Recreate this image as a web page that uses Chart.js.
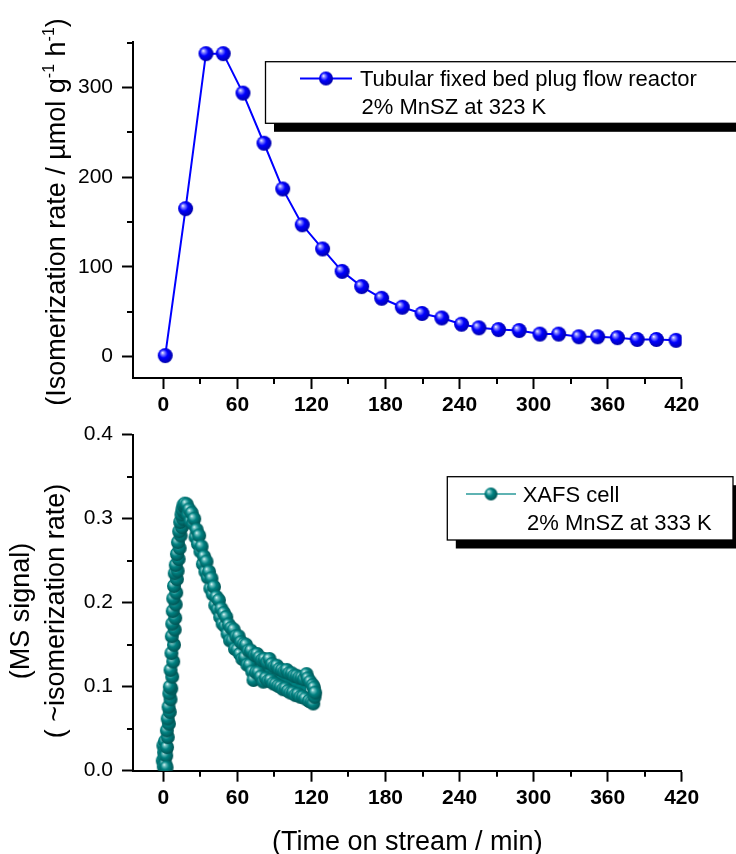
<!DOCTYPE html>
<html><head><meta charset="utf-8">
<script src="https://cdn.jsdelivr.net/npm/chart.js@4.4.1/dist/chart.umd.min.js"></script>
<style>
html,body{margin:0;padding:0;background:#fff;overflow:hidden;width:736px;height:854px;}
canvas{position:absolute;left:0;top:0;}
</style></head><body>
<canvas id="topChart" width="736" height="854"></canvas>
<canvas id="bottomChart" width="736" height="854"></canvas>
<script>
const FONT = '"Liberation Sans", Arial, Helvetica, sans-serif';

// ---- tick labels ----
const timeTicks = [0, 60, 120, 180, 240, 300, 360, 420];
const timeMinorTicks = [30, 90, 150, 210, 270, 330, 390];
const rateTicks = [0, 100, 200, 300];
const rateMinorTicks = [50, 150, 250, 350];
const signalTicks = [0, 0.1, 0.2, 0.3, 0.4];
const signalMinorTicks = [0.05, 0.15, 0.25, 0.35];

// ---- series: tubular fixed bed plug flow reactor (2% MnSZ, 323 K) ----
const tubeTime = [1.5, 18, 34.5, 48.5, 64.5, 81.5, 96.7, 112.5, 129, 144.8, 160.7, 176.9, 193.6, 209.6, 225.6, 241.6, 255.7, 271.6, 288.3, 305.1, 320.3, 336.7, 351.9, 367.9, 383.9, 399.5, 415.4];
const tubeRate = [1, 165, 338, 338, 294, 238, 187, 147, 120, 95, 78, 65, 55, 48, 43, 36, 32, 30, 29, 25, 25, 22, 22, 21, 19, 19, 18];

// ---- series: XAFS cell (2% MnSZ, 333 K) ----
const xafsTime = [
  -0.5, 0, 0.3, 0.6, 1, 1.3, 1.6, 2, 2.3, 2.6,
  3, 3.6, 2.8, 4.5, 3.5, 5.2, 4.2, 5.8, 4.8, 6.4,
  5.2, 7.2, 5.8, 8.0, 6.5, 8.6, 6.8, 9.2, 7.2, 9.6,
  7.6, 10.0, 8.0, 10.4, 8.6, 11.0, 9.2, 11.6, 10.0, 12.4,
  11.0, 13.2, 11.8, 14.0, 12.8, 15.0, 13.6, 15.8, 14.6, 16.4,
  15.4, 17.2, 16.2, 18.2, 17.4,
  19, 20, 21, 22, 23, 24, 25, 26, 27, 28,
  29, 30, 31, 32, 33, 34, 35, 36, 37, 38,
  39, 40, 41, 42, 43, 44, 45, 46, 47, 48,
  49, 50, 51, 52, 53, 54, 55, 56, 57, 58,
  59, 60, 61, 62, 63, 64, 65, 66, 67, 68,
  69, 70, 71, 72, 73, 74, 75, 76, 77, 78,
  79, 80, 81, 82, 83, 84, 85, 86, 87, 88,
  89, 90, 91, 92, 93, 94, 95, 96, 97, 98,
  99, 100, 101, 102, 103, 104, 105, 106, 107, 108,
  109, 110, 111, 112, 113, 114, 115, 116, 117, 118,
  119, 120, 121, 121.5, 122, 122.5, 123
];
const xafsSignal = [
  0.012, 0.030, 0.005, 0.022, 0.015, 0.035, 0.008, 0.025, 0.018, 0.004,
  0.028, 0.040, 0.048, 0.056, 0.062, 0.070, 0.076, 0.085, 0.092, 0.098,
  0.100, 0.112, 0.120, 0.130, 0.140, 0.150, 0.160, 0.168, 0.175, 0.182,
  0.190, 0.198, 0.205, 0.212, 0.220, 0.228, 0.235, 0.238, 0.245, 0.252,
  0.258, 0.265, 0.272, 0.280, 0.285, 0.290, 0.296, 0.300, 0.305, 0.308,
  0.311, 0.314, 0.316, 0.315, 0.318,
  0.317, 0.305, 0.311, 0.297, 0.307, 0.294, 0.300, 0.278, 0.287, 0.270,
  0.280, 0.261, 0.267, 0.246, 0.255, 0.237, 0.249, 0.230, 0.237, 0.217,
  0.229, 0.210, 0.219, 0.197, 0.207, 0.192, 0.203, 0.183, 0.193, 0.175,
  0.188, 0.172, 0.183, 0.163, 0.174, 0.155, 0.170, 0.155, 0.168, 0.145,
  0.160, 0.144, 0.160, 0.139, 0.153, 0.133, 0.151, 0.135, 0.150, 0.126,
  0.143, 0.126, 0.143, 0.118, 0.108, 0.138, 0.117, 0.139, 0.117, 0.135,
  0.112, 0.132, 0.106, 0.133, 0.110, 0.129, 0.107, 0.133, 0.108, 0.127,
  0.104, 0.124, 0.103, 0.125, 0.101, 0.121, 0.100, 0.120, 0.097, 0.118,
  0.098, 0.120, 0.095, 0.116, 0.093, 0.116, 0.093, 0.113, 0.090, 0.113,
  0.091, 0.111, 0.088, 0.111, 0.088, 0.109, 0.086, 0.115, 0.110, 0.083,
  0.106, 0.082, 0.102, 0.080, 0.099, 0.088, 0.093
];

const legendTop = ['Tubular fixed bed plug flow reactor', '2% MnSZ at 323 K'];
const legendBottom = ['XAFS cell', '2% MnSZ at 333 K'];

// ---- sphere markers ----
function sphere(r, c0, c1, c2, c3) {
  const c = document.createElement('canvas');
  const s = Math.ceil(2 * r) + 2;
  c.width = s; c.height = s;
  const g = c.getContext('2d');
  const cx = s / 2, cy = s / 2;
  const grad = g.createRadialGradient(cx - 0.38 * r, cy - 0.4 * r, 0, cx - 0.1 * r, cy - 0.1 * r, r * 1.12);
  grad.addColorStop(0, c0);
  grad.addColorStop(0.2, c1);
  grad.addColorStop(0.5, c2);
  grad.addColorStop(1, c3);
  g.fillStyle = grad;
  g.beginPath(); g.arc(cx, cy, r, 0, Math.PI * 2); g.fill();
  return c;
}
const blueBall = sphere(7.5, '#ffffff', '#8888ff', '#0000ff', '#0000a8');
const blueBallLeg = sphere(7, '#ffffff', '#8888ff', '#0000ff', '#0000a8');
const tealBall = sphere(7, '#f0ffff', '#6fc0c0', '#008282', '#005252');
const tealBallLeg = sphere(6.5, '#f0ffff', '#6fc0c0', '#008282', '#005252');

// ---- helpers ----
function scaleOpts(ticksArr, min, max, fixedSize, isX, fmt) {
  return {
    type: 'linear', min: min, max: max,
    afterFit(s) { if (isX) s.height = fixedSize; else s.width = fixedSize; },
    afterBuildTicks(s) { s.ticks = ticksArr.map(v => ({ value: v })); },
    ticks: {
      autoSkip: false, maxRotation: 0, color: '#000',
      padding: isX ? 4 : 9,
      font: { family: FONT, size: 21, weight: isX ? 'bold' : 'normal', lineHeight: 1.2 },
      callback: fmt
    },
    grid: { display: true, drawOnChartArea: false, drawTicks: true, tickLength: 11, tickWidth: 2, tickColor: '#000', color: '#000' },
    border: { display: true, color: '#000', width: 2 }
  };
}

function minorTicksPlugin(xMinor, yMinor) {
  return {
    id: 'minorTicks',
    afterDraw(chart) {
      const { ctx, scales, chartArea: a } = chart;
      ctx.save();
      ctx.strokeStyle = '#000'; ctx.lineWidth = 2;
      ctx.beginPath();
      xMinor.forEach(v => { const px = Math.round(scales.x.getPixelForValue(v)); ctx.moveTo(px, a.bottom); ctx.lineTo(px, a.bottom + 6); });
      yMinor.forEach(v => { const py = Math.round(scales.y.getPixelForValue(v)); ctx.moveTo(a.left, py); ctx.lineTo(a.left - 6, py); });
      ctx.stroke();
      ctx.restore();
    }
  };
}

function legendPlugin(cfg) {
  return {
    id: 'boxLegend',
    afterDraw(chart) {
      const ctx = chart.ctx;
      ctx.save();
      ctx.fillStyle = '#000';
      ctx.fillRect(cfg.x + cfg.sh, cfg.y + cfg.sh, cfg.w, cfg.h);
      ctx.fillStyle = '#fff';
      ctx.fillRect(cfg.x, cfg.y, cfg.w, cfg.h);
      ctx.strokeStyle = '#000'; ctx.lineWidth = 1.3;
      ctx.strokeRect(cfg.x, cfg.y, cfg.w, cfg.h);
      ctx.strokeStyle = cfg.color; ctx.lineWidth = cfg.lw;
      ctx.beginPath(); ctx.moveTo(cfg.lx0, cfg.ly); ctx.lineTo(cfg.lx1, cfg.ly); ctx.stroke();
      const b = cfg.ball;
      ctx.drawImage(b, (cfg.lx0 + cfg.lx1) / 2 - b.width / 2, cfg.ly - b.height / 2);
      ctx.fillStyle = '#000';
      ctx.font = '22px ' + FONT;
      ctx.textBaseline = 'alphabetic'; ctx.textAlign = 'left';
      ctx.fillText(cfg.text[0], cfg.t1x, cfg.t1y);
      ctx.fillText(cfg.text[1], cfg.t2x, cfg.t2y);
      ctx.restore();
    }
  };
}

function rotatedText(ctx, parts, cx, baseX) {
  ctx.save();
  let total = 0;
  parts.forEach(p => { ctx.font = p.size + 'px ' + FONT; p.w = ctx.measureText(p.t).width; total += p.w; });
  ctx.translate(baseX, cx);
  ctx.rotate(-Math.PI / 2);
  ctx.fillStyle = '#000'; ctx.textBaseline = 'alphabetic'; ctx.textAlign = 'left';
  let x = -total / 2;
  parts.forEach(p => { ctx.font = p.size + 'px ' + FONT; ctx.fillText(p.t, x, -(p.rise || 0)); x += p.w; });
  ctx.restore();
}

const topTitlePlugin = {
  id: 'topTitle',
  afterDraw(chart) {
    rotatedText(chart.ctx, [
      { t: '(Isomerization rate / µmol g', size: 27 },
      { t: '-1', size: 16, rise: 11 },
      { t: ' h', size: 27 },
      { t: '-1', size: 16, rise: 11 },
      { t: ')', size: 27 }
    ], 212, 64.5);
  }
};

const bottomTitlePlugin = {
  id: 'bottomTitle',
  afterDraw(chart) {
    const ctx = chart.ctx;
    rotatedText(ctx, [{ t: '(MS signal)', size: 27 }], 611, 28.5);
    rotatedText(ctx, [{ t: '( ~isomerization rate)', size: 27 }], 611, 63.5);
    ctx.save();
    ctx.fillStyle = '#000'; ctx.font = '27px ' + FONT;
    ctx.textAlign = 'center'; ctx.textBaseline = 'alphabetic';
    ctx.fillText('(Time on stream / min)', (chart.chartArea.left + chart.chartArea.right) / 2, 850);
    ctx.restore();
  }
};

// ---- top chart ----
new Chart(document.getElementById('topChart'), {
  type: 'scatter',
  data: {
    datasets: [{
      label: legendTop[0],
      data: tubeTime.map((t, i) => ({ x: t, y: tubeRate[i] })),
      showLine: true,
      borderColor: '#0000ff', borderWidth: 2,
      pointStyle: blueBall, pointRadius: 7.5, pointHoverRadius: 7.5
    }]
  },
  options: {
    responsive: false, animation: false, events: [],
    layout: { padding: { left: 0, top: 42, right: 54.3, bottom: 427 } },
    plugins: { legend: { display: false }, tooltip: { enabled: false } },
    scales: {
      x: scaleOpts(timeTicks, -24.6, 420, 49, true, v => String(v)),
      y: scaleOpts(rateTicks, -24, 351, 133, false, v => String(v))
    }
  },
  plugins: [minorTicksPlugin(timeMinorTicks, rateMinorTicks), topTitlePlugin, legendPlugin({
    x: 265.5, y: 61.7, w: 520, h: 61.6, sh: 8.5,
    color: '#0000ff', lw: 2, lx0: 300, lx1: 352, ly: 78.5, ball: blueBallLeg,
    text: legendTop, t1x: 360, t1y: 86, t2x: 361.5, t2y: 114
  })]
});

// ---- bottom chart ----
new Chart(document.getElementById('bottomChart'), {
  type: 'scatter',
  data: {
    datasets: [{
      label: legendBottom[0],
      data: xafsTime.map((t, i) => ({ x: t, y: xafsSignal[i] })),
      showLine: true,
      borderColor: '#008080', borderWidth: 1.5,
      pointStyle: tealBall, pointRadius: 7, pointHoverRadius: 7
    }]
  },
  options: {
    responsive: false, animation: false, events: [],
    layout: { padding: { left: 0, top: 434.7, right: 54.3, bottom: 0 } },
    plugins: { legend: { display: false }, tooltip: { enabled: false } },
    scales: {
      x: scaleOpts(timeTicks, -24.6, 420, 83.3, true, v => String(v)),
      y: scaleOpts(signalTicks, 0, 0.4, 133, false, v => Number(v).toFixed(1))
    }
  },
  plugins: [minorTicksPlugin(timeMinorTicks, signalMinorTicks), bottomTitlePlugin, legendPlugin({
    x: 447.3, y: 476.7, w: 285.7, h: 63.3, sh: 8.5,
    color: '#2a9a9a', lw: 1.5, lx0: 466, lx1: 516, ly: 494, ball: tealBallLeg,
    text: legendBottom, t1x: 522.7, t1y: 501.7, t2x: 527, t2y: 530
  })]
});
</script>
</body></html>
